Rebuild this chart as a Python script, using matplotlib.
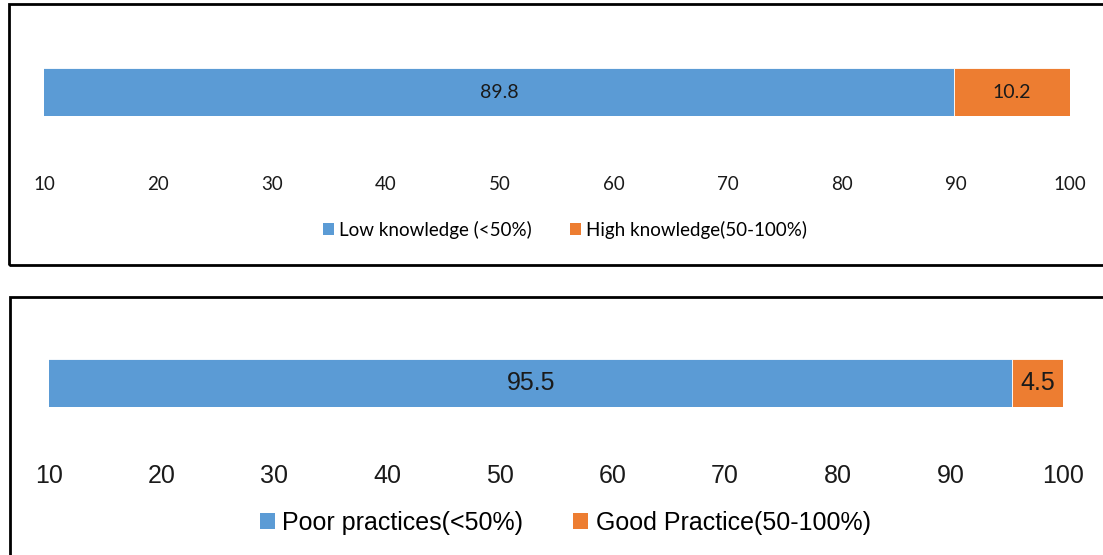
import matplotlib
matplotlib.use("Agg")

import matplotlib.pyplot as plt
from matplotlib.patches import Patch, Rectangle

W, H = 1103, 555

BLUE = "#5B9BD5"
ORANGE = "#ED7D31"

# panel 1 : knowledge
know_labels = ["Low knowledge (<50%)", "High knowledge(50-100%)"]
know_values = [89.8, 10.2]

# panel 2 : practices
prac_labels = ["Poor practices(<50%)", "Good Practice(50-100%)"]
prac_values = [95.5, 4.5]

ticks = list(range(10, 101, 10))


def px_axes(fig, x0, x1, y_top, y_bot):
    return fig.add_axes([x0 / W, 1 - y_bot / H, (x1 - x0) / W, (y_bot - y_top) / H])


def draw_panel(fig, ax, labels, values, font, fs_tick, fs_leg, fs_lab, pad, leg_y):
    left = 0
    for lab, val, col in zip(labels, values, [BLUE, ORANGE]):
        ax.barh(0, val, left=left, height=1.0, color=col, edgecolor="white",
                linewidth=0.6, label=lab)
        # centre of the visible part (axis starts at 10)
        mid = (max(left, 10) + left + val) / 2
        ax.text(mid, 0, f"{val:.1f}", ha="center", va="center", fontsize=fs_lab,
                family=font, color="#1a1a1a")
        left += val
    ax.set_xlim(10, 100)
    ax.set_ylim(-0.5, 0.5)
    ax.set_xticks(ticks)
    ax.set_yticks([])
    ax.tick_params(axis="x", length=0, pad=pad, labelsize=fs_tick, labelcolor="#1a1a1a")
    for t in ax.get_xticklabels():
        t.set_family(font)
    for s in ax.spines.values():
        s.set_visible(False)

    handles = [Patch(facecolor=BLUE, label=labels[0]), Patch(facecolor=ORANGE, label=labels[1])]
    fig.legend(handles=handles, loc="center", bbox_to_anchor=(565 / W, 1 - leg_y / H),
               ncol=2, frameon=False, prop={"family": font, "size": fs_leg},
               handlelength=0.6, handleheight=0.6, handletextpad=0.3, columnspacing=2.0)


fig = plt.figure(figsize=(W / 100, H / 100), dpi=100)
fig.patch.set_facecolor("white")

ax1 = px_axes(fig, 44, 1070, 68, 116)
draw_panel(fig, ax1, know_labels, know_values, "Lato", 13.5, 13.5, 14, 43.5, 230)

ax2 = px_axes(fig, 49, 1063, 359, 407)
draw_panel(fig, ax2, prac_labels, prac_values, "Liberation Sans", 18, 18, 18, 41, 523)

# panel borders
fig.add_artist(Rectangle((9 / W, 1 - 265 / H), 1.2, (265 - 4) / H, transform=fig.transFigure,
                         fill=False, edgecolor="black", linewidth=2))
fig.add_artist(Rectangle((10 / W, -0.2), 1.2, 0.2 + (1 - 297 / H), transform=fig.transFigure,
                         fill=False, edgecolor="black", linewidth=2))

fig.savefig("out.png", dpi=100)
